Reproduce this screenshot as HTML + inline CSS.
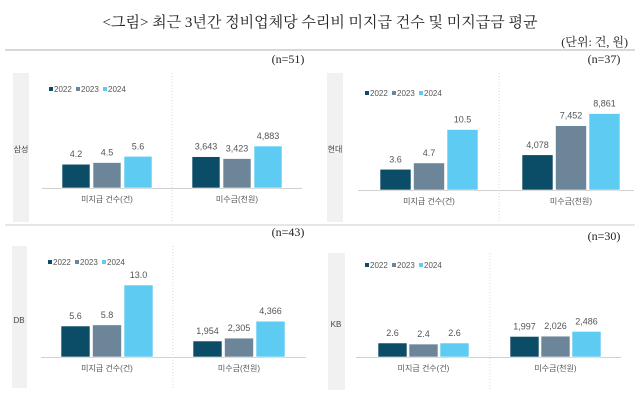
<!DOCTYPE html>
<html><head><meta charset="utf-8"><style>
body{margin:0;background:#fff;}
svg text{font-family:"Liberation Sans","Noto Sans CJK KR",sans-serif;}
.serif{font-family:"Liberation Serif","Noto Serif CJK SC",serif;}
</style></head><body>
<svg id="c" width="640" height="400" viewBox="0 0 640 400">
<text class="serif" x="320" y="27" text-anchor="middle" font-size="15" fill="#222" style="font-family:'Liberation Serif','Noto Serif CJK KR',serif">&lt;그림&gt; 최근 3년간 정비업체당 수리비 미지급 건수 및 미지급금 평균</text>
<text x="628" y="46" text-anchor="end" font-size="12" fill="#222" style="font-family:'Liberation Serif','Noto Serif CJK KR',serif">(단위: 건, 원)</text>
<line x1="5" y1="50" x2="635" y2="50" stroke="#ccc" stroke-width="1.5"/>
<line x1="5" y1="225" x2="635" y2="225" stroke="#ddd" stroke-width="1.5"/>
<g id="panels"></g>
</svg>
<script>
const years = ["2022","2023","2024"];
const categories = ["미지급 건수(건)","미수금(천원)"];
const panelNames = ["삼성","현대","DB","KB"];
const sampleSizes = ["(n=51)","(n=37)","(n=43)","(n=30)"];
const samsungCount = [4.2,4.5,5.6];
const samsungAmount = [3643,3423,4883];
const hyundaiCount = [3.6,4.7,10.5];
const hyundaiAmount = [4078,7452,8861];
const dbCount = [5.6,5.8,13.0];
const dbAmount = [1954,2305,4366];
const kbCount = [2.6,2.4,2.6];
const kbAmount = [1997,2026,2486];
const countLabels = {"samsung":["4.2","4.5","5.6"],"hyundai":["3.6","4.7","10.5"],"db":["5.6","5.8","13.0"],"kb":["2.6","2.4","2.6"]};

const colors=["#0b4c66","#6c8599","#5ecbf2"];
const NS="http://www.w3.org/2000/svg";
const root=document.getElementById('panels');
function el(tag,attrs,parent){const e=document.createElementNS(NS,tag);for(const k in attrs)e.setAttribute(k,attrs[k]);(parent||root).appendChild(e);return e;}
function fmt(v,isAmt){return isAmt?v.toLocaleString('en-US'):v.toFixed(1);}
const layout=[
 {key:"samsung",c:samsungCount,a:samsungAmount,strip:[13,73,16,149],lab:[21,149],leg:[49,92],base:188,axis:[42,302],div:172,g1:62,g2:192,bw:28,step:31,cs:5.66,as:0.0086,n:[288,63]},
 {key:"hyundai",c:hyundaiCount,a:hyundaiAmount,strip:[327,73,16,149],lab:[335,149],leg:[365,96],base:190,axis:[358,634],div:499,g1:380,g2:522,bw:31,step:33.5,cs:5.76,as:0.00863,n:[604,63]},
 {key:"db",c:dbCount,a:dbAmount,strip:[12,246,15,142],lab:[19,320],leg:[48,265],base:357,axis:[41,306],div:173,g1:61,g2:193,bw:29,step:31.5,cs:5.54,as:0.0082,n:[288,236]},
 {key:"kb",c:kbCount,a:kbAmount,strip:[328,253,17,137],lab:[336,324],leg:[365,268],base:357,axis:[356,621],div:490,g1:378,g2:510,bw:29,step:31,cs:5.4,as:0.0103,n:[604,240]}
];
layout.forEach((p,pi)=>{
 const g=el('g',{});
 
 
 let r=el('rect',{x:p.strip[0],y:p.strip[1],width:p.strip[2],height:p.strip[3],fill:'#f1f1f1'},g);
 
 
 let t=el('text',{x:p.lab[0],y:p.lab[1]+3,'text-anchor':'middle','font-size':8,fill:'#444'},g);t.textContent=panelNames[pi];
 
 
 t=el('text',{x:p.n[0],y:p.n[1],'text-anchor':'middle','font-size':12,fill:'#222',style:"font-family:'Liberation Serif',serif"},g);t.textContent=sampleSizes[pi];
 
 
 let l=el('line',{x1:p.axis[0],y1:p.base+0.5,x2:p.axis[1],y2:p.base+0.5,stroke:'#d0d0d0'},g);
 
 
 l=el('line',{x1:p.div,y1:p.strip[1],x2:p.div,y2:p.strip[1]+p.strip[3],stroke:'#d8d8d8','stroke-dasharray':'1,2'},g);
 
 
 years.forEach((y,i)=>{
  const lx=p.leg[0]+i*27;
  let s=el('rect',{x:lx,y:p.leg[1]-5,width:4,height:4,fill:colors[i]},g);
  
  
  let tt=el('text',{x:lx+5,y:p.leg[1],'font-size':8,fill:'#555'},g);tt.textContent=y;
  
  
 });
 [[p.c,p.g1,p.cs,false],[p.a,p.g2,p.as,true]].forEach((gr,gi)=>{
  const [vals,x0,sc,isAmt]=gr;
  vals.forEach((v,i)=>{
   const h=v*sc, x=x0+i*p.step;
   let b=el('rect',{x:x,y:p.base-h,width:p.bw,height:h,fill:colors[i],stroke:'#fff','stroke-width':0.6},g);
   
   
   let vt=el('text',{x:x+p.bw/2,y:p.base-h-7,'text-anchor':'middle','font-size':9,fill:'#555'},g);
   vt.textContent=fmt(v,isAmt);
   
   
  });
  let ct=el('text',{x:x0+p.step+p.bw/2,y:p.base+14,'text-anchor':'middle','font-size':8,fill:'#555'},g);
  ct.textContent=categories[gi];
  
  
 });
});
</script>
</body></html>
